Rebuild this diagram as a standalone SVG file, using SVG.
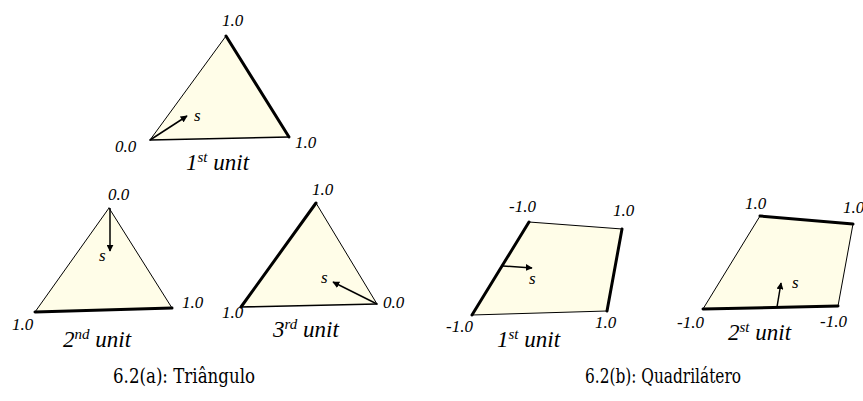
<svg xmlns="http://www.w3.org/2000/svg" width="863" height="401" viewBox="0 0 863 401">
<defs>
<style>
.sh{fill:#fffde8;stroke:none}
.thin{stroke:#000;stroke-width:1;fill:none;stroke-linecap:round}
.thick{stroke:#000;stroke-width:3;fill:none;stroke-linecap:round}
.mid{stroke:#000;stroke-width:1.6;fill:none;stroke-linecap:round}
.lb{font-family:"Liberation Serif","Times New Roman",serif;font-style:italic;font-size:17px;fill:#000}
.un{font-family:"Liberation Serif","Times New Roman",serif;font-style:italic;font-size:23px;fill:#000}
.sup{font-size:15px}
.cap{font-family:"DejaVu Serif","Liberation Serif",serif;font-size:20px;fill:#000}
.ar{stroke:#000;stroke-width:1.5;fill:none;marker-end:url(#ah)}
</style>
<marker id="ah" viewBox="0 0 10 10" refX="9" refY="5" markerWidth="7" markerHeight="7" markerUnits="userSpaceOnUse" orient="auto">
<path d="M0,0 L10,5 L0,10 z" fill="#000"/>
</marker>
</defs>

<g id="tri1">
<polygon class="sh" points="226,36 150,140 289,137"/>
<line class="thin" x1="226" y1="36" x2="150" y2="140"/>
<line class="thick" x1="226" y1="36" x2="289" y2="137"/>
<line class="mid" x1="150" y1="140" x2="289" y2="137"/>
<text class="lb" x="222" y="26">1.0</text>
<text class="lb" x="115" y="152">0.0</text>
<text class="lb" x="295" y="148">1.0</text>
<text class="lb" x="194" y="121">s</text>
<text class="un" x="186" y="170">1<tspan class="sup" dy="-8">st</tspan><tspan dy="8"> unit</tspan></text>
</g>

<g id="tri2">
<polygon class="sh" points="109,208 35,312 172,308"/>
<line class="thin" x1="109" y1="208" x2="35" y2="312"/>
<line class="thin" x1="109" y1="208" x2="172" y2="308"/>
<line class="thick" x1="35" y1="312" x2="172" y2="308"/>
<text class="lb" x="108" y="200">0.0</text>
<text class="lb" x="182" y="308">1.0</text>
<text class="lb" x="12" y="330">1.0</text>
<text class="lb" x="99" y="261">s</text>
<text class="un" x="63" y="347">2<tspan class="sup" dy="-8">nd</tspan><tspan dy="8"> unit</tspan></text>
</g>

<g id="tri3">
<polygon class="sh" points="316,203 241,307 377,304"/>
<line class="thick" x1="316" y1="203" x2="241" y2="307"/>
<line class="thin" x1="316" y1="203" x2="377" y2="304"/>
<line class="mid" x1="241" y1="307" x2="377" y2="304"/>
<text class="lb" x="312" y="195">1.0</text>
<text class="lb" x="383" y="308">0.0</text>
<text class="lb" x="222" y="318">1.0</text>
<text class="lb" x="321" y="283">s</text>
<text class="un" x="273" y="337">3<tspan class="sup" dy="-8">rd</tspan><tspan dy="8"> unit</tspan></text>
</g>

<g id="quad1">
<polygon class="sh" points="529,222 622,229 607,311 472,315"/>
<line class="thick" x1="529" y1="222" x2="472" y2="315"/>
<line class="thin" x1="529" y1="222" x2="622" y2="229"/>
<line class="thick" x1="622" y1="229" x2="607" y2="311"/>
<line class="thin" x1="607" y1="311" x2="472" y2="315"/>
<text class="lb" x="509" y="212">-1.0</text>
<text class="lb" x="613" y="216">1.0</text>
<text class="lb" x="446" y="332">-1.0</text>
<text class="lb" x="595" y="328">1.0</text>
<text class="lb" x="529" y="284">s</text>
<text class="un" x="497" y="347">1<tspan class="sup" dy="-8">st</tspan><tspan dy="8"> unit</tspan></text>
</g>

<g id="quad2">
<polygon class="sh" points="760,216 853,224 838,306 703,309"/>
<line class="thin" x1="760" y1="216" x2="703" y2="309"/>
<line class="thick" x1="760" y1="216" x2="853" y2="224"/>
<line class="thin" x1="853" y1="224" x2="838" y2="306"/>
<line class="thick" x1="838" y1="306" x2="703" y2="309"/>
<text class="lb" x="745" y="209">1.0</text>
<text class="lb" x="843" y="213">1.0</text>
<text class="lb" x="677" y="328">-1.0</text>
<text class="lb" x="820" y="327">-1.0</text>
<text class="lb" x="792" y="288">s</text>
<text class="un" x="728" y="340">2<tspan class="sup" dy="-8">st</tspan><tspan dy="8"> unit</tspan></text>
</g>

<g id="connectors">
<line class="ar" x1="150" y1="140" x2="187" y2="116"/>
<line class="ar" x1="110" y1="208" x2="110" y2="251"/>
<line class="ar" x1="377" y1="304" x2="333" y2="282"/>
<line class="ar" x1="503" y1="266" x2="532" y2="268"/>
<line class="ar" x1="777" y1="307" x2="781" y2="283"/>
</g>

<g id="captions">
<text class="cap" x="113" y="383" textLength="142" lengthAdjust="spacingAndGlyphs">6.2(a): Triângulo</text>
<text class="cap" x="585" y="383" textLength="156" lengthAdjust="spacingAndGlyphs">6.2(b): Quadrilátero</text>
</g>
</svg>
